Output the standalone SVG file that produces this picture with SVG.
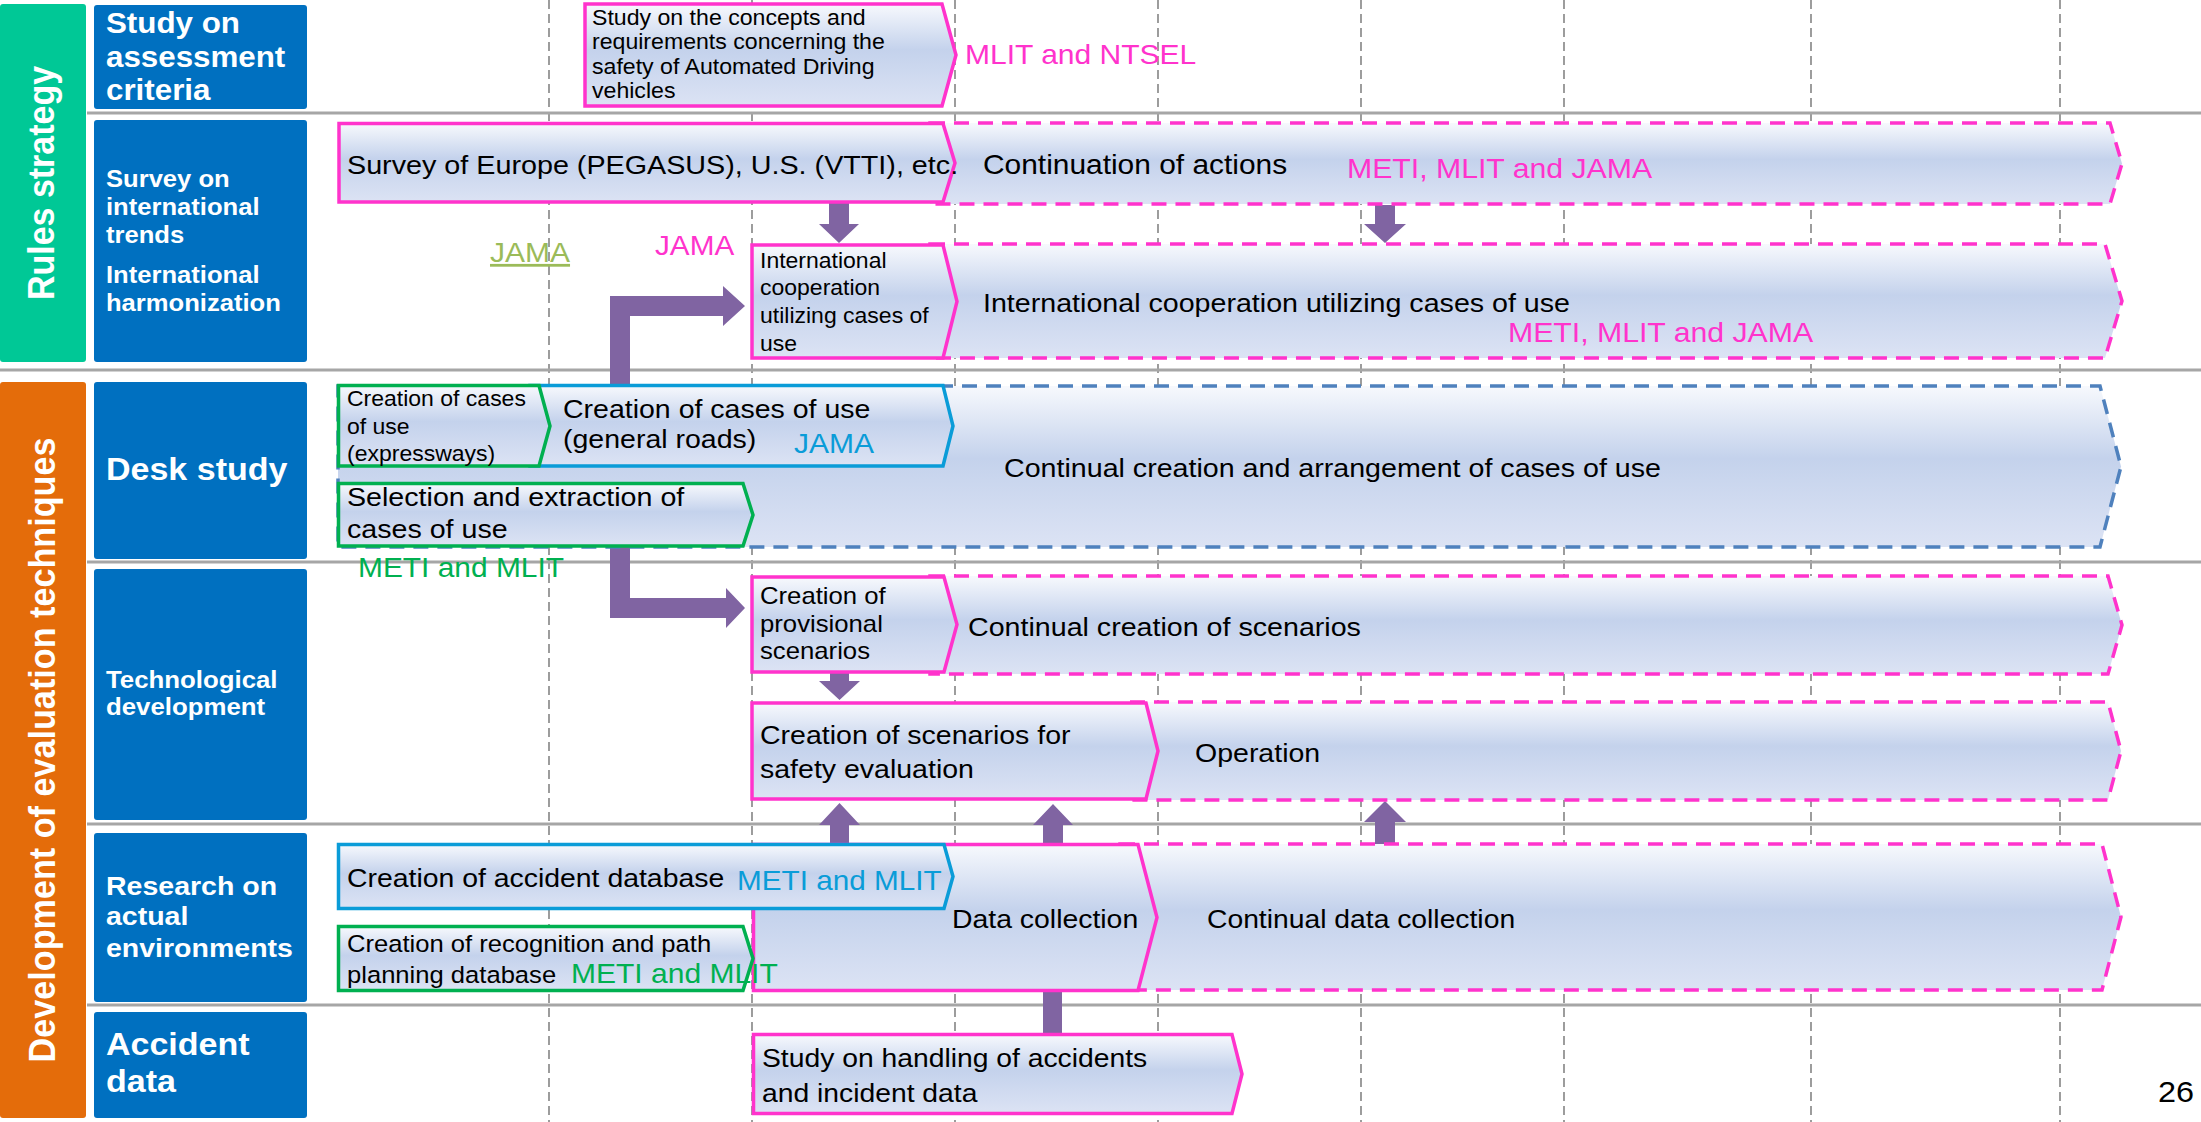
<svg xmlns="http://www.w3.org/2000/svg" width="2201" height="1122" viewBox="0 0 2201 1122">
  <defs>
    <linearGradient id="boxFill" x1="0" y1="0" x2="0" y2="1">
      <stop offset="0" stop-color="#F7F9FD"/>
      <stop offset="0.45" stop-color="#C4D2EC"/>
      <stop offset="1" stop-color="#DCE3F4"/>
    </linearGradient>
  </defs>
  <style>
    text { font-family: "Liberation Sans", Arial, Helvetica, sans-serif; }
    .sx { transform-box: fill-box; transform-origin: 0 0; transform: scaleX(1.08); }
    .lbl { font-weight: bold; fill: #FFFFFF; }
    .t { fill: #000000; }
    .box { fill: url(#boxFill); stroke-width: 3.5; stroke-linejoin: miter; }
    .dash { stroke-dasharray: 15 9; }
    .pink { stroke: #FF33CC; }
    .green { stroke: #00B050; }
    .cyan { stroke: #0A9CD8; }
    .blue { stroke: #4F81BD; }
    .c-pink { fill: #FF33CC; }
    .c-green { fill: #00B050; }
    .c-cyan { fill: #0A9CD8; }
    .c-olive { fill: #9BBB59; }
    .vgrid { stroke: #8C8C8C; stroke-width: 1.7; stroke-dasharray: 9 5; }
    .hgrid { stroke: #A6A6A6; stroke-width: 3; }
    .arrow { fill: #8064A2; }
  </style>

  <rect width="2201" height="1122" fill="#FFFFFF"/>

  <!-- timeline grid -->
  <g id="grid">
    <line class="vgrid" x1="549" y1="0" x2="549" y2="1122"/>
    <line class="vgrid" x1="752" y1="0" x2="752" y2="1122"/>
    <line class="vgrid" x1="955" y1="0" x2="955" y2="1122"/>
    <line class="vgrid" x1="1158" y1="0" x2="1158" y2="1122"/>
    <line class="vgrid" x1="1361" y1="0" x2="1361" y2="1122"/>
    <line class="vgrid" x1="1564" y1="0" x2="1564" y2="1122"/>
    <line class="vgrid" x1="1811" y1="0" x2="1811" y2="1122"/>
    <line class="vgrid" x1="2060" y1="0" x2="2060" y2="1122"/>
    <line class="hgrid" x1="87" y1="113" x2="2201" y2="113"/>
    <line class="hgrid" x1="0" y1="370" x2="2201" y2="370"/>
    <line class="hgrid" x1="87" y1="562" x2="2201" y2="562"/>
    <line class="hgrid" x1="87" y1="824" x2="2201" y2="824"/>
    <line class="hgrid" x1="87" y1="1005" x2="2201" y2="1005"/>
  </g>

  <!-- category bars -->
  <g id="cat-rules">
    <rect x="0" y="4" width="86" height="358" rx="3" fill="#00C896"/>
    <text class="lbl" font-size="34" text-anchor="middle" transform="translate(54 183) scale(1.08 1) rotate(-90)">Rules strategy</text>
  </g>
  <g id="cat-evaluation">
    <rect x="0" y="382" width="86" height="736" rx="3" fill="#E46C0A"/>
    <text class="lbl" font-size="34.2" text-anchor="middle" transform="translate(55 750) scale(1.08 1) rotate(-90)">Development of evaluation techniques</text>
  </g>

  <!-- row labels -->
  <g id="row-assessment">
    <rect x="94" y="5" width="213" height="104" rx="3" fill="#0070C0"/>
    <text class="lbl sx" font-size="29"><tspan x="106" y="33">Study on</tspan><tspan x="106" y="67">assessment</tspan><tspan x="106" y="100">criteria</tspan></text>
  </g>
  <g id="row-international">
    <rect x="94" y="120" width="213" height="242" rx="3" fill="#0070C0"/>
    <text class="lbl sx" font-size="23.7"><tspan x="106" y="187">Survey on</tspan><tspan x="106" y="215">international</tspan><tspan x="106" y="243">trends</tspan><tspan x="106" y="283">International</tspan><tspan x="106" y="311">harmonization</tspan></text>
  </g>
  <g id="row-desk">
    <rect x="94" y="382" width="213" height="177" rx="3" fill="#0070C0"/>
    <text class="lbl sx" font-size="31.5" x="106" y="480">Desk study</text>
  </g>
  <g id="row-tech">
    <rect x="94" y="569" width="213" height="251" rx="3" fill="#0070C0"/>
    <text class="lbl sx" font-size="23.9"><tspan x="106" y="688">Technological</tspan><tspan x="106" y="715">development</tspan></text>
  </g>
  <g id="row-research">
    <rect x="94" y="833" width="213" height="169" rx="3" fill="#0070C0"/>
    <text class="lbl sx" font-size="26.4"><tspan x="106" y="895">Research on</tspan><tspan x="106" y="925">actual</tspan><tspan x="106" y="957">environments</tspan></text>
  </g>
  <g id="row-accident">
    <rect x="94" y="1012" width="213" height="106" rx="3" fill="#0070C0"/>
    <text class="lbl sx" font-size="31.5"><tspan x="106" y="1055">Accident</tspan><tspan x="106" y="1092">data</tspan></text>
  </g>

  <!-- connectors -->
  <g id="connectors">
    <polygon class="arrow" points="829,203 849,203 849,224 859,224 839,243 819,224 829,224"/>
    <polygon class="arrow" points="1375,205 1395,205 1395,224 1406,224 1385,243 1364,224 1375,224"/>
    <polygon class="arrow" points="610,500 610,296 723,296 723,286 745,306 723,326 723,316 630,316 630,500"/>
    <polygon class="arrow" points="610,540 630,540 630,598 726,598 726,588 745,608 726,628 726,618 610,618"/>
    <polygon class="arrow" points="830,672 849,672 849,681 860,681 839.5,700 819,681 830,681"/>
    <polygon class="arrow" points="830,845 830,825 819,825 839.5,803 860,825 849,825 849,845"/>
    <polygon class="arrow" points="1043,845 1043,825 1033,825 1053,804 1073,825 1063,825 1063,845"/>
    <polygon class="arrow" points="1375,845 1375,822 1364,822 1385,801 1406,822 1395,822 1395,845"/>
    <polygon class="arrow" points="1043,1036 1043,975 1033,975 1052.5,955 1072,975 1062,975 1062,1036"/>
  </g>

  <!-- nodes -->
  <g id="node-concepts">
    <polygon class="box pink" points="585,4 942,4 956,55 942,106 585,106"/>
    <text class="t sx" font-size="21.4"><tspan x="592" y="25">Study on the concepts and</tspan><tspan x="592" y="49">requirements concerning the</tspan><tspan x="592" y="74">safety of Automated Driving</tspan><tspan x="592" y="98">vehicles</tspan></text>
  </g>
  <text id="org-mlit-ntsel" class="c-pink sx" font-size="27.8" x="965" y="64">MLIT and NTSEL</text>

  <g id="node-continuation">
    <polygon class="box pink dash" points="930,123 2110,123 2122,163.5 2110,204 930,204"/>
    <text class="t sx" font-size="27.7" x="983" y="174">Continuation of actions</text>
    <text class="c-pink sx" font-size="28" x="1347" y="178">METI, MLIT and JAMA</text>
  </g>
  <g id="node-survey">
    <polygon class="box pink" points="339,123.5 943,123.5 955,163 943,202 339,202"/>
    <text class="t sx" font-size="26.6" x="347" y="174">Survey of Europe (PEGASUS), U.S. (VTTI), etc.</text>
  </g>

  <text id="org-jama-olive" class="c-olive sx" font-size="27.8" x="490" y="262" text-decoration="underline">JAMA</text>
  <text id="org-jama-pink" class="c-pink sx" font-size="27.5" x="655" y="255">JAMA</text>

  <g id="node-intl-continual">
    <polygon class="box pink dash" points="930,244 2105,244 2122,301 2105,358 930,358"/>
    <text class="t sx" font-size="26.5" x="983" y="312">International cooperation utilizing cases of use</text>
    <text class="c-pink sx" font-size="28" x="1508" y="342">METI, MLIT and JAMA</text>
  </g>
  <g id="node-intl-coop">
    <polygon class="box pink" points="752,245 943,245 957,301.5 943,358 752,358"/>
    <text class="t sx" font-size="21.3"><tspan x="760" y="268">International</tspan><tspan x="760" y="295">cooperation</tspan><tspan x="760" y="323">utilizing cases of</tspan><tspan x="760" y="351">use</tspan></text>
  </g>

  <g id="node-cases-continual">
    <polygon class="box blue dash" points="338,386 2100,386 2121,466.5 2100,547 338,547"/>
    <text class="t sx" font-size="26.5" x="1004" y="477">Continual creation and arrangement of cases of use</text>
  </g>
  <g id="node-cases-general">
    <polygon class="box cyan" points="530,385.5 943,385.5 953,426 943,466 530,466"/>
    <text class="t sx" font-size="26.4"><tspan x="563" y="418">Creation of cases of use</tspan><tspan x="563" y="448">(general roads)</tspan></text>
    <text class="c-cyan sx" font-size="27.8" x="794" y="453">JAMA</text>
  </g>
  <g id="node-cases-expressways">
    <polygon class="box green" points="338.5,385.5 539,385.5 550,426 539,466 338.5,466"/>
    <text class="t sx" font-size="21.3"><tspan x="347" y="406">Creation of cases</tspan><tspan x="347" y="434">of use</tspan><tspan x="347" y="461">(expressways)</tspan></text>
  </g>
  <g id="node-selection">
    <polygon class="box green" points="338.5,483.5 743,483.5 753,515 743,546 338.5,546"/>
    <text class="t sx" font-size="26.5"><tspan x="347" y="506">Selection and extraction of</tspan><tspan x="347" y="538">cases of use</tspan></text>
  </g>
  <text id="org-meti-mlit-desk" class="c-green sx" font-size="27.7" x="358" y="577">METI and MLIT</text>

  <g id="node-scenarios-continual">
    <polygon class="box pink dash" points="930,576 2108,576 2122,625 2108,674 930,674"/>
    <text class="t sx" font-size="26.5" x="968" y="636">Continual creation of scenarios</text>
  </g>
  <g id="node-provisional">
    <polygon class="box pink" points="752,577 944,577 957,624.5 944,672 752,672"/>
    <text class="t sx" font-size="23.8"><tspan x="760" y="604">Creation of</tspan><tspan x="760" y="632">provisional</tspan><tspan x="760" y="659">scenarios</tspan></text>
  </g>
  <g id="node-operation">
    <polygon class="box pink dash" points="1130,702 2108,702 2121,751 2108,800 1130,800"/>
    <text class="t sx" font-size="26.4" x="1195" y="762">Operation</text>
  </g>
  <g id="node-safety-eval">
    <polygon class="box pink" points="752,703 1146,703 1158,751 1146,799 752,799"/>
    <text class="t sx" font-size="26.4"><tspan x="760" y="744">Creation of scenarios for</tspan><tspan x="760" y="778">safety evaluation</tspan></text>
  </g>

  <g id="node-data-continual">
    <polygon class="box pink dash" points="1120,844 2102,844 2121,917 2102,990 1120,990"/>
    <text class="t sx" font-size="26.2" x="1207" y="928">Continual data collection</text>
  </g>
  <g id="node-data-collection">
    <polygon class="box pink" points="753.5,844.5 1138,844.5 1157,917.5 1138,990.5 753.5,990.5"/>
    <text class="t sx" font-size="26.3" x="952" y="928">Data collection</text>
  </g>
  <g id="node-accident-db">
    <polygon class="box cyan" points="338.5,844.5 944,844.5 953,876.5 944,908.5 338.5,908.5"/>
    <text class="t sx" font-size="26.3" x="347" y="887">Creation of accident database</text>
    <text class="c-cyan sx" font-size="27.5" x="737" y="890">METI and MLIT</text>
  </g>
  <g id="node-recognition">
    <polygon class="box green" points="338.5,926.5 743,926.5 753,958.5 743,990.5 338.5,990.5"/>
    <text class="t sx" font-size="23.7"><tspan x="347" y="952">Creation of recognition and path</tspan><tspan x="347" y="983">planning database</tspan></text>
    <text class="c-green sx" font-size="27.8" x="571" y="983">METI and MLIT</text>
  </g>

  <g id="node-handling">
    <polygon class="box pink" points="753.5,1034.5 1232,1034.5 1242,1074 1232,1113.5 753.5,1113.5"/>
    <text class="t sx" font-size="26.2"><tspan x="762" y="1067">Study on handling of accidents</tspan><tspan x="762" y="1102">and incident data</tspan></text>
  </g>

  <text id="page-number" class="t sx" font-size="30" x="2158" y="1102">26</text>
</svg>
